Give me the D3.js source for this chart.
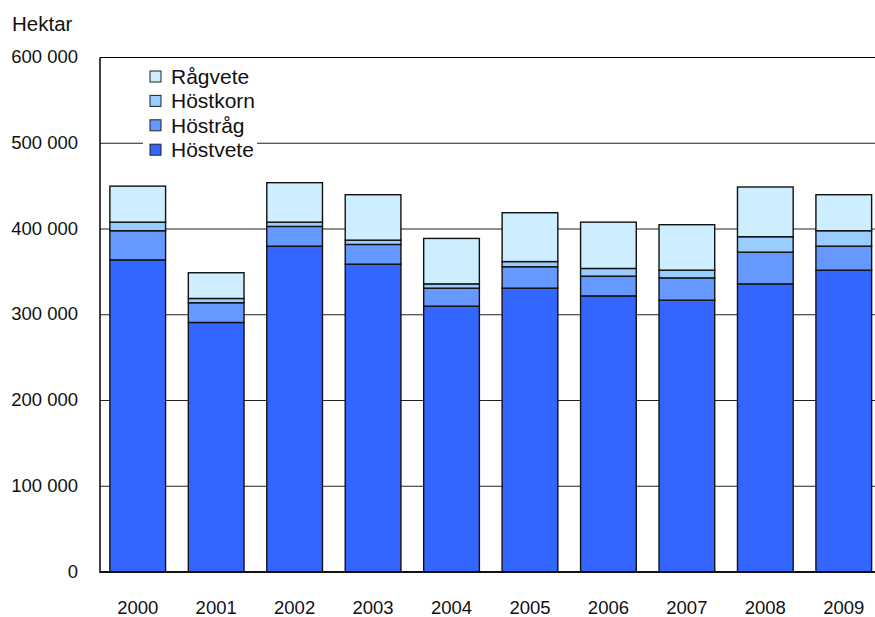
<!DOCTYPE html>
<html>
<head>
<meta charset="utf-8">
<script src="https://cdn.jsdelivr.net/npm/d3@7"></script>
<style>
  body { margin: 0; background: #fff; }
  svg { display: block; }
</style>
</head>
<body>
<svg id="svg" width="875" height="617"></svg>
<script>
// data
const years = ['2000', '2001', '2002', '2003', '2004', '2005', '2006', '2007', '2008', '2009'];
const seriesNames = ['Höstvete', 'Höstråg', 'Höstkorn', 'Rågvete'];
const hostvete = [364000, 291000, 380000, 359000, 310000, 331000, 322000, 317000, 336000, 352000];
const hostrag = [34000, 23000, 23000, 23000, 21000, 25000, 23000, 26000, 37000, 28000];
const hostkorn = [10000, 5000, 5000, 5000, 5000, 6000, 9000, 9000, 18000, 18000];
const ragvete = [42000, 30000, 46000, 53000, 53000, 57000, 54000, 53000, 58000, 42000];
const yTicks = [0, 100000, 200000, 300000, 400000, 500000, 600000];

const colors = ['#3366ff', '#6699ff', '#99ccff', '#cceeff'];

const svg = d3.select('#svg');
const plotLeft = 100, plotRight = 883, plotTop = 57.5, plotBottom = 572;

const table = years.map((yr, i) => ({
	year: yr,
	'Höstvete': hostvete[i],
	'Höstråg': hostrag[i],
	'Höstkorn': hostkorn[i],
	'Rågvete': ragvete[i]
}));

const x = d3.scaleBand().domain(years).range([plotLeft - 1.5, plotRight])
	.paddingInner(0.29).paddingOuter(0.145);
const y = d3.scaleLinear().domain([0, 600000]).range([plotBottom, plotTop]);

let fmt = v => d3.format(',')(v).replace(/,/g, ' ');

// gridlines
svg.append('g').selectAll('line')
	.data(yTicks.filter(t => t > 0 && t < 600000)).enter()
	.append('line')
	.attr('x1', plotLeft).attr('x2', plotRight)
	.attr('y1', d => y(d)).attr('y2', d => y(d))
	.attr('stroke', '#222').attr('stroke-width', 1);

// top frame line
svg.append('line')
	.attr('x1', plotLeft).attr('x2', plotRight)
	.attr('y1', y(600000)).attr('y2', y(600000))
	.attr('stroke', '#000').attr('stroke-width', 1.2);

// bars
const stacked = d3.stack().keys(seriesNames)(table);
svg.append('g').selectAll('g')
	.data(stacked).enter()
	.append('g')
	.attr('fill', (d, i) => colors[i])
	.selectAll('rect')
	.data(d => d).enter()
	.append('rect')
	.attr('x', d => x(d.data.year))
	.attr('width', x.bandwidth())
	.attr('y', d => y(d[1]))
	.attr('height', d => y(d[0]) - y(d[1]))
	.attr('stroke', '#111')
	.attr('stroke-width', 1.4);

// axes lines
svg.append('line')
	.attr('x1', plotLeft).attr('x2', plotLeft)
	.attr('y1', plotTop).attr('y2', plotBottom + 1)
	.attr('stroke', '#000').attr('stroke-width', 1.5);
svg.append('line')
	.attr('x1', plotLeft).attr('x2', plotRight)
	.attr('y1', plotBottom).attr('y2', plotBottom)
	.attr('stroke', '#111').attr('stroke-width', 2);

// y tick labels
svg.append('g').selectAll('text')
	.data(yTicks).enter()
	.append('text')
	.attr('x', 78)
	.attr('y', d => y(d))
	.attr('dy', '0.3em')
	.attr('text-anchor', 'end')
	.attr('font-family', '"Liberation Sans Narrow", "Liberation Sans", Arial, sans-serif')
	.attr('font-size', 18.5)
	.attr('fill', '#111')
	.text(d => fmt(d));

// x labels
svg.append('g').selectAll('text')
	.data(years).enter()
	.append('text')
	.attr('x', d => x(d) + x.bandwidth() / 2)
	.attr('y', 614)
	.attr('text-anchor', 'middle')
	.attr('font-family', '"Liberation Sans Narrow", "Liberation Sans", Arial, sans-serif')
	.attr('font-size', 18.5)
	.attr('fill', '#111')
	.text(d => d);

// unit title
svg.append('text')
	.attr('x', 12).attr('y', 31)
	.attr('font-family', '"Liberation Sans", Arial, sans-serif')
	.attr('font-size', 20.5)
	.attr('fill', '#111')
	.text('Hektar');

// legend
const legend = svg.append('g');
legend.append('rect')
	.attr('x', 143).attr('y', 62).attr('width', 114).attr('height', 100)
	.attr('fill', '#fff');
const legendOrder = seriesNames.slice().reverse();
const items = legend.selectAll('g.item')
	.data(legendOrder).enter()
	.append('g')
	.attr('class', 'item')
	.attr('transform', (d, i) => `translate(150, ${76.5 + i * 24.4})`);
items.append('rect')
	.attr('x', 0).attr('y', -5.5).attr('width', 11).attr('height', 11)
	.attr('fill', d => colors[seriesNames.indexOf(d)])
	.attr('stroke', '#222').attr('stroke-width', 1);
items.append('text')
	.attr('x', 21).attr('y', 0).attr('dy', '0.36em')
	.attr('font-family', '"Liberation Sans", Arial, sans-serif')
	.attr('font-size', 21)
	.attr('fill', '#111')
	.text(d => d);
</script>
</body>
</html>
